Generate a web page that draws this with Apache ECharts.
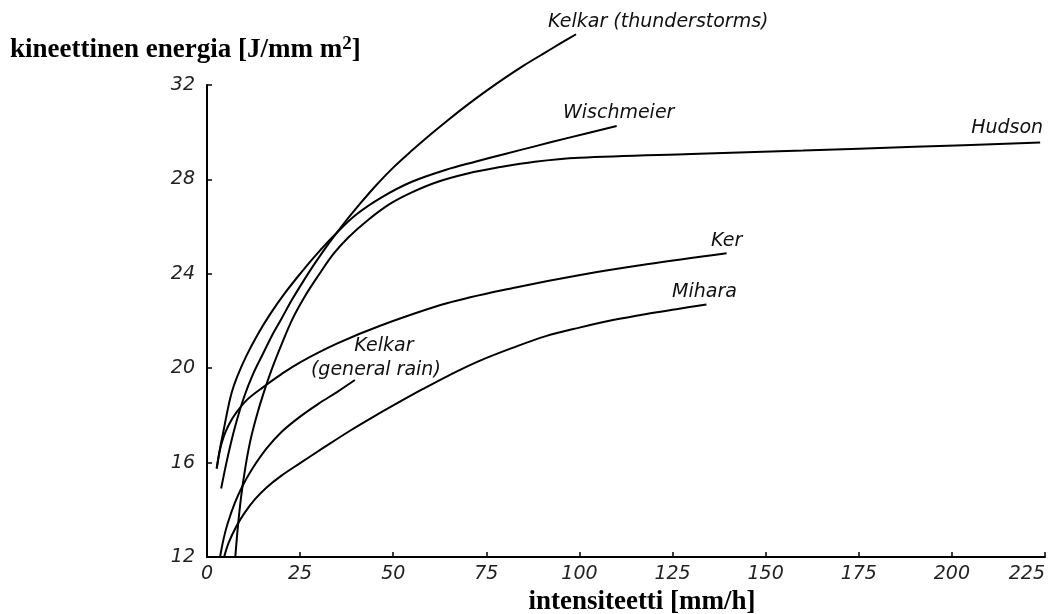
<!DOCTYPE html>
<html>
<head>
<meta charset="utf-8">
<script src="https://cdn.jsdelivr.net/npm/echarts@6/dist/echarts.min.js"></script>
<style>
html,body{margin:0;padding:0;background:#fff;}
#c{width:1050px;height:614px;}
</style>
</head>
<body>
<div id="c"></div>
<script>
// ---- data (intensity mm/h, kinetic energy J/mm m2) ----
const xTicks = [0, 25, 50, 75, 100, 125, 150, 175, 200, 225];
const yTicks = [12, 16, 20, 24, 28, 32];

const kelkarThunder = [[3.8,14.9],[5.5,16.2],[7.5,17.5],[10,18.8],[12.5,19.8],[15,20.6],[17.5,21.4],[20,22.1],[23,22.95],[26,23.72],[29,24.45],[33,25.35],[37,26.18],[41,26.95],[45,27.68],[50,28.5],[55,29.22],[60,29.9],[65,30.55],[70,31.17],[75,31.75],[80,32.3],[85,32.82],[90,33.3],[95,33.77],[99.1,34.15]];
const wischmeier = [[2.6,15.75],[3.5,16.6],[4.5,17.4],[5.5,18.2],[6.6,18.95],[8,19.6],[10.5,20.5],[13.5,21.4],[17,22.3],[21,23.2],[25,24.0],[29,24.75],[34,25.6],[40,26.5],[47,27.25],[55,27.9],[64,28.4],[72,28.75],[80,29.08],[88,29.4],[97,29.76],[110,30.26]];
const hudson = [[7.6,12.0],[8.3,13.3],[9.2,14.6],[10.3,15.8],[11.6,16.9],[13.2,17.9],[15.1,18.9],[17.5,20.0],[20,21.0],[23,22.1],[26.5,23.1],[30,23.95],[34,24.85],[38,25.55],[43,26.25],[49,26.95],[55,27.45],[62,27.9],[70,28.25],[78,28.5],[88,28.75],[100,28.92],[130,29.08],[160,29.22],[190,29.38],[223.7,29.56]];
const ker = [[2.6,15.75],[3.5,16.55],[4.6,17.15],[6,17.65],[8,18.15],[11,18.7],[15.1,19.2],[20,19.75],[25,20.25],[35,21.05],[46.5,21.8],[64.4,22.75],[82.2,23.4],[100.2,23.95],[118.1,24.4],[139.5,24.87]];
const mihara = [[4.6,12.0],[5.8,12.6],[7.9,13.3],[10,13.85],[12.9,14.45],[16,14.95],[20,15.45],[25,15.98],[31,16.6],[38.4,17.35],[45,17.97],[51.8,18.58],[58,19.12],[65,19.7],[73,20.3],[82,20.86],[91,21.36],[100,21.72],[109,22.04],[118,22.3],[126,22.5],[134.1,22.7]];
const kelkarGeneral = [[3.5,12.0],[4.5,12.8],[5.5,13.4],[7.5,14.3],[9.5,15.0],[12,15.7],[16,16.6],[20,17.3],[25,17.95],[30,18.5],[35,19.0],[39.7,19.5]];

const seriesNames = ['Kelkar (thunderstorms)', 'Wischmeier', 'Hudson', 'Ker', 'Mihara', 'Kelkar (general rain)'];
const seriesData = [kelkarThunder, wischmeier, hudson, ker, mihara, kelkarGeneral];
// label texts drawn near each curve's end: [text, series index, dx, dy, align]
const curveLabels = [
  ['Kelkar (thunderstorms)', 0, -28, -12, 'left'],
  ['Wischmeier', 1, 2, -13, 'center'],
  ['Hudson', 2, 3, -15, 'right'],
  ['Ker', 3, 0, -12, 'center'],
  ['Mihara', 4, -2, -12, 'center'],
  ['Kelkar', 5, 29, -34, 'center'],
  ['(general rain)', 5, 21, -10, 'center']
];

const chart = echarts.init(document.getElementById('c'), null, {renderer: 'canvas'});

const tickFont = {fontFamily: 'DejaVu Sans', fontStyle: 'italic', fontSize: 19, color: '#222'};

const series = seriesData.map((d, i) => ({
  type: 'line',
  name: seriesNames[i],
  data: d,
  symbol: 'none',
  smooth: 0.35,
  clip: false,
  lineStyle: {color: '#000', width: 2},
  silent: true
}));

chart.setOption({
  animation: false,
  backgroundColor: '#fff',
  title: {
    text: 'kineettinen energia [J/mm m{sup|2}]',
    left: 5,
    top: 30,
    textStyle: {
      fontFamily: 'Liberation Serif',
      fontWeight: 'bold',
      fontSize: 27,
      color: '#000',
      rich: {
        sup: {fontFamily: 'Liberation Serif', fontWeight: 'bold', fontSize: 19, verticalAlign: 'top', padding: [0,0,12,0], color: '#000'}
      }
    }
  },
  grid: {left: 207, right: 5, top: 85, bottom: 57, containLabel: false, outerBoundsMode: 'none'},
  xAxis: {
    type: 'value',
    min: xTicks[0],
    max: xTicks[xTicks.length - 1],
    interval: 25,
    name: 'intensiteetti [mm/h]',
    nameLocation: 'middle',
    nameGap: 31,
    nameTextStyle: {fontFamily: 'Liberation Serif', fontWeight: 'bold', fontSize: 27, color: '#000', padding: [0,0,0,32]},
    axisLine: {lineStyle: {color: '#000', width: 2}},
    axisTick: {inside: true, length: 5, lineStyle: {color: '#000', width: 1.5}},
    axisLabel: Object.assign({margin: 8, alignMaxLabel: 'right'}, tickFont),
    splitLine: {show: false}
  },
  yAxis: {
    type: 'value',
    min: yTicks[0],
    max: yTicks[yTicks.length - 1],
    interval: 4,
    axisLine: {show: true, lineStyle: {color: '#000', width: 2}},
    axisTick: {show: true, inside: true, length: 5, lineStyle: {color: '#000', width: 1.5}},
    axisLabel: Object.assign({margin: 12}, tickFont),
    splitLine: {show: false}
  },
  series: series
});

// place curve labels relative to the pixel position of each curve's last data point
const graphics = curveLabels.map(([text, si, dx, dy, align]) => {
  const d = seriesData[si];
  const p = chart.convertToPixel({gridIndex: 0}, d[d.length - 1]);
  return {
    type: 'text',
    x: p[0] + dx,
    y: p[1] + dy,
    silent: true,
    style: {
      text: text,
      fontFamily: 'DejaVu Sans',
      fontStyle: 'italic',
      fontSize: 19,
      fill: '#111',
      align: align,
      verticalAlign: 'middle'
    }
  };
});
chart.setOption({graphic: graphics});
</script>
</body>
</html>
